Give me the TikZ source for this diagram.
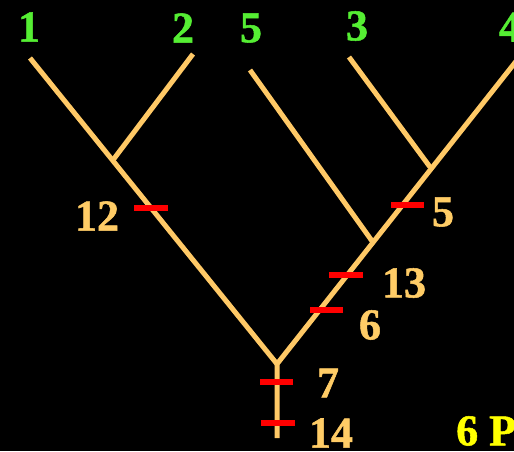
\documentclass[tikz,border=0pt]{standalone}
\usepackage{fontspec}
\setmainfont{Liberation Serif}
\newfontfamily\lbold{Liberation Serif Bold}[FakeBold=1.2]
\definecolor{branch}{RGB}{255,201,102}
\definecolor{leafgreen}{RGB}{85,238,51}
\definecolor{tickred}{RGB}{255,0,0}
\definecolor{lbl}{RGB}{255,204,102}
\definecolor{yel}{RGB}{255,255,0}
\begin{document}
\begin{tikzpicture}[x=1pt,y=-1pt,
  edge/.style={draw=branch,line width=5pt},
  tick/.style={draw=tickred,line width=6pt},
  taxon/.style={text=leafgreen,font=\lbold\fontsize{44}{44}\selectfont,inner sep=0pt},
  count/.style={text=lbl,font=\lbold\fontsize{44}{44}\selectfont,inner sep=0pt}]
\useasboundingbox (0,0) rectangle (514,451);
\fill[black] (0,0) rectangle (514,451);
\clip (0,0) rectangle (514,451);
% taxa labels
\node[taxon] (t1) at (29,27) {1};
\node[taxon] (t2) at (183,28) {2};
\node[taxon] (t5) at (251,28) {5};
\node[taxon] (t3) at (357,26) {3};
\node[taxon] (t4) at (510,27) {4};
% tree points
\coordinate (l1) at (30,58);
\coordinate (l2) at (193,54);
\coordinate (l5) at (250,70);
\coordinate (l3) at (349,57);
\coordinate (l4) at (521,55);
\coordinate (a) at (113,160);
\coordinate (c) at (430,167);
\coordinate (b) at (372,241);
\coordinate (r) at (277,364);
\coordinate (rb) at (277,438);
% branches
\draw[edge] (l1) -- (r);
\draw[edge] (l2) -- (a);
\draw[edge] (l5) -- (b);
\draw[edge] (l3) -- (c);
\draw[edge,line join=miter] (l4) -- (r) -- (rb);
% ticks
\coordinate (k12a) at (134,208); \coordinate (k12b) at (168,208);
\coordinate (k5a) at (391,205); \coordinate (k5b) at (424,205);
\coordinate (k13a) at (329,275); \coordinate (k13b) at (363,275);
\coordinate (k6a) at (310,310); \coordinate (k6b) at (343,310);
\coordinate (k7a) at (260,382); \coordinate (k7b) at (293,382);
\coordinate (k14a) at (261,423); \coordinate (k14b) at (295,423);
\draw[tick] (k12a) -- (k12b);
\draw[tick] (k5a) -- (k5b);
\draw[tick] (k13a) -- (k13b);
\draw[tick] (k6a) -- (k6b);
\draw[tick] (k7a) -- (k7b);
\draw[tick] (k14a) -- (k14b);
% counts
\node[count] (n12) at (97,216) {12};
\node[count] (n5) at (443,212) {5};
\node[count] (n13) at (404,283) {13};
\node[count] (n6) at (370,325) {6};
\node[count] (n7) at (328,383) {7};
\node[count] (n14) at (331,433) {14};
\node[text=yel,font=\lbold\fontsize{44}{44}\selectfont,inner sep=0pt,anchor=west] (steps) at (456,431) {6 P};
\end{tikzpicture}
\end{document}
